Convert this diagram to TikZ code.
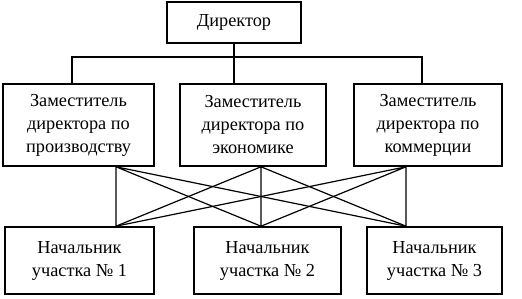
\documentclass[tikz,border=0pt]{standalone}
\usepackage{fontspec}
\setmainfont{Liberation Serif}
\usetikzlibrary{positioning}

\begin{document}
\begin{tikzpicture}[
  x=1pt, y=1pt,
  box/.style={draw, line width=1.6pt, align=center, inner sep=2pt,
    font=\fontsize{18.3}{23}\selectfont},
  conn/.style={line width=1.2pt}
]
\useasboundingbox (0,0) rectangle (522,299);
\node[box, minimum width=134pt, minimum height=41pt] (dir) at (234,276.5) {Директор};
\node[box, minimum width=151pt, minimum height=82pt] (z1) at (78.5,174) {Заместитель\\директора по\\производству};
\node[box, minimum width=146pt, minimum height=82pt] (z2) at (253,174) {Заместитель\\директора по\\экономике};
\node[box, minimum width=148pt, minimum height=82pt] (z3) at (428,174) {Заместитель\\директора по\\коммерции};
\node[box, minimum width=149pt, minimum height=67pt] (n1) at (79.5,38.5) {Начальник\\участка № 1};
\node[box, minimum width=147pt, minimum height=67pt] (n2) at (267.5,38.5) {Начальник\\участка № 2};
\node[box, minimum width=135pt, minimum height=67pt] (n3) at (434.5,38.5) {Начальник\\участка № 3};
% director to deputies
\coordinate (b1) at (72,242);
\coordinate (b3) at (422,242);
\draw[conn] (dir.south) |- (b1) -- (b1 |- z1.north);
\draw[conn] (dir.south) |- (b3) -- (b3 |- z3.north);
\draw[conn] (dir.south) -- (dir.south |- z2.north);
% deputies to sections
\coordinate (t1) at ([xshift=37.5pt]z1.south);
\coordinate (t2) at ([xshift=8pt]z2.south);
\coordinate (t3) at ([xshift=-22pt]z3.south);
\coordinate (s1) at ([xshift=36.5pt]n1.north);
\coordinate (s2) at ([xshift=-6.5pt]n2.north);
\coordinate (s3) at ([xshift=-28.5pt]n3.north);
\draw[conn] (t1) -- (s1) (t1) -- (s2) (t1) -- (s3);
\draw[conn] (t2) -- (s1) (t2) -- (s2) (t2) -- (s3);
\draw[conn] (t3) -- (s1) (t3) -- (s2) (t3) -- (s3);
\end{tikzpicture}
\end{document}
